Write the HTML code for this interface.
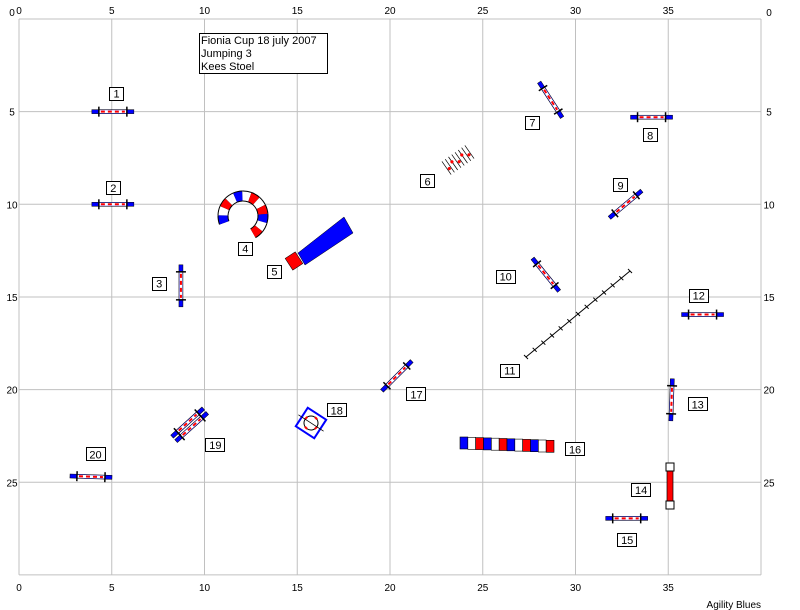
<!DOCTYPE html>
<html><head><meta charset="utf-8"><style>
body{margin:0;background:#fff;}
svg{display:block;font-family:"Liberation Sans",sans-serif;}
</style></head><body>
<svg id="c" width="800" height="610" xmlns="http://www.w3.org/2000/svg">
<g id="grid"></g>
<g id="obs"></g>
<g id="labs"></g>
<g>
<rect x="199.5" y="33.5" width="128" height="40" fill="#fff" stroke="#000"/>
<text x="201" y="44" font-size="11">Fionia Cup 18 july 2007</text>
<text x="201" y="57" font-size="11">Jumping 3</text>
<text x="201" y="70" font-size="11">Kees Stoel</text>
</g>
<text x="761" y="608" font-size="10" text-anchor="end">Agility Blues</text>
</svg>
<script>
const xTicks=[0,5,10,15,20,25,30,35];
const yTicks=[0,5,10,15,20,25];
const jumpIds=[1,2,3,7,8,9,10,12,13,15,17,20];
const jumpX=[5.06,5.06,8.73,28.66,34.1,32.7,28.4,36.85,35.18,32.76,20.37,3.88];
const jumpY=[5.0,10.0,14.4,4.36,5.3,10.0,13.8,15.95,20.55,26.95,19.26,24.7];
const jumpAngle=[0,0,90,57,0,-40,51,0,92,0,-45,2];
const labelText=["1","2","3","4","5","6","7","8","9","10","11","12","13","14","15","16","17","18","19","20"];
const labelX=[5.23,5.06,7.53,12.17,13.74,22.0,27.65,34.0,32.4,26.21,26.43,36.62,36.56,33.51,32.76,29.95,21.4,17.1,10.56,4.1];
const labelY=[4.0,9.1,14.25,12.36,13.6,8.74,5.56,6.26,8.95,13.87,18.95,14.9,20.77,25.4,28.1,23.2,20.23,21.1,22.95,23.47];
const tunnelColors=["#0000ff","#fff","#ff0000","#0000ff","#fff","#ff0000","#0000ff","#fff","#ff0000","#0000ff","#fff","#ff0000"];
const curveColors=["#0000ff","#fff","#ff0000","#fff","#0000ff","#fff","#ff0000","#fff","#ff0000","#0000ff","#fff","#ff0000"];

const NS="http://www.w3.org/2000/svg";
const X0=19,Y0=19,KX=18.55,KY=18.53;
function sx(u){return X0+u*KX;}
function sy(u){return Y0+u*KY;}
function mk(tag,attrs,parent){const e=document.createElementNS(NS,tag);for(const k in attrs)e.setAttribute(k,attrs[k]);parent.appendChild(e);return e;}

const grid=document.getElementById('grid');
const obs=document.getElementById('obs');
const labs=document.getElementById('labs');

for(let i=0;i<=40;i+=5){
  const l=mk('line',{x1:sx(i),x2:sx(i),y1:sy(0),y2:sy(30),stroke:'#c0c0c0','stroke-width':1},grid);
  
  
}
for(let j=0;j<=30;j+=5){
  const l=mk('line',{x1:sx(0),x2:sx(40),y1:sy(j),y2:sy(j),stroke:'#c0c0c0','stroke-width':1},grid);
  
  
}
xTicks.forEach(v=>{
  [10,587].forEach(yy=>{
    const t=mk('text',{x:sx(v),y:yy+4,'font-size':10,'text-anchor':'middle'},grid);
    t.textContent=v;
    
    
  });
});
yTicks.forEach(v=>{
  const t=mk('text',{x:12,y:sy(v)+(v===0?-3:4),'font-size':10,'text-anchor':'middle'},grid);
  t.textContent=v;
  
  
  const t2=mk('text',{x:769,y:sy(v)+(v===0?-3:4),'font-size':10,'text-anchor':'middle'},grid);
  t2.textContent=v;
  
  
});

function jump(g){
  mk('rect',{x:-21,y:-2,width:42,height:4,fill:'#0000ff',stroke:'#000','stroke-width':0.5},g);
  mk('rect',{x:-14,y:-1.5,width:28,height:3,fill:'#fff'},g);
  mk('line',{x1:-12,x2:12,y1:0,y2:0,stroke:'#ff0000','stroke-width':2,'stroke-dasharray':'4 3'},g);
  mk('line',{x1:-14,x2:-14,y1:-5,y2:5,stroke:'#000','stroke-width':1.5},g);
  mk('line',{x1:14,x2:14,y1:-5,y2:5,stroke:'#000','stroke-width':1.5},g);
}
jumpIds.forEach((id,i)=>{
  const g=mk('g',{transform:'translate('+sx(jumpX[i])+','+sy(jumpY[i])+') rotate('+jumpAngle[i]+')'},obs);
  
  
  jump(g);
});

{
  const g=mk('g',{transform:'translate('+sx(9.2)+','+sy(21.9)+') rotate(-42)'},obs);
  
  
  [-3,3].forEach(o=>{
    const gg=mk('g',{transform:'translate(0,'+o+')'},g);
    jump(gg);
  });
}

{
  const g=mk('g',{},obs);
  
  
  const cx=243,cy=216,r=20,n=curveColors.length;
  const a0=200,a1=-60;
  for(let i=0;i<n;i++){
    const s=(a0+(a1-a0)*i/n)*Math.PI/180,e=(a0+(a1-a0)*(i+1)/n)*Math.PI/180;
    const p1=[cx+r*Math.cos(s),cy-r*Math.sin(s)],p2=[cx+r*Math.cos(e),cy-r*Math.sin(e)];
    const d='M'+p1[0]+','+p1[1]+' A'+r+','+r+' 0 0 1 '+p2[0]+','+p2[1];
    mk('path',{d:d,stroke:'#000','stroke-width':11,fill:'none'},g);
    mk('path',{d:d,stroke:curveColors[i],'stroke-width':9,fill:'none'},g);
  }
}

{
  const g=mk('g',{},obs);
  
  
  mk('polygon',{points:'298,253 305,265 353,233 344,217',fill:'#0000ff',stroke:'#000','stroke-width':0.5},g);
  mk('rect',{x:-6,y:-7,width:12,height:14,fill:'#ff0000',stroke:'#000','stroke-width':0.5,transform:'translate(294,261) rotate(-33)'},g);
}

{
  const g=mk('g',{transform:'translate(458,160) rotate(-35)'},obs);
  
  
  for(let i=0;i<8;i++) mk('line',{x1:-14+i*4,x2:-14+i*4,y1:-8,y2:8,stroke:'#000','stroke-width':0.7},g);
  for(let i=0;i<5;i++) mk('circle',{cx:-12+i*6,cy:(i%2?-2:2),r:1.6,fill:'#ff0000'},g);
}

{
  const g=mk('g',{},obs);
  
  
  const x1=526,y1=357,x2=630,y2=271;
  mk('line',{x1:x1,y1:y1,x2:x2,y2:y2,stroke:'#000','stroke-width':1},g);
  for(let i=0;i<=12;i++){
    const x=x1+(x2-x1)*i/12,y=y1+(y2-y1)*i/12;
    mk('line',{x1:x-2,y1:y-2,x2:x+2,y2:y+2,stroke:'#000','stroke-width':1},g);
  }
}

{
  const g=mk('g',{},obs);
  
  
  mk('rect',{x:667,y:466,width:6,height:42,fill:'#ff0000',stroke:'#000','stroke-width':0.7},g);
  mk('rect',{x:666,y:463,width:8,height:8,fill:'#fff',stroke:'#000','stroke-width':1},g);
  mk('rect',{x:666,y:501,width:8,height:8,fill:'#fff',stroke:'#000','stroke-width':1},g);
}

{
  const g=mk('g',{},obs);
  
  
  const n=tunnelColors.length,w=(554-460)/n;
  tunnelColors.forEach((c,i)=>{
    mk('rect',{x:460+i*w,y:437+i*0.3,width:w,height:12,fill:c,stroke:'#000','stroke-width':0.6},g);
  });
}

{
  const g=mk('g',{transform:'translate(311,423) rotate(33)'},obs);
  
  
  mk('rect',{x:-11,y:-11,width:22,height:22,fill:'#fff',stroke:'#0000ff','stroke-width':2},g);
  mk('circle',{cx:0,cy:0,r:7,fill:'none',stroke:'#000','stroke-width':1},g);
  mk('circle',{cx:0,cy:0,r:7,fill:'none',stroke:'#ff0000','stroke-width':2,'stroke-dasharray':'3 8'},g);
  mk('line',{x1:-15,x2:15,y1:0,y2:0,stroke:'#000','stroke-width':0.8},g);
}

labelText.forEach((t,i)=>{
  const w=t.length>1?19:14;
  const cx=sx(labelX[i]),cy=sy(labelY[i]);
  const g=mk('g',{},labs);
  
  
  mk('rect',{x:Math.round(cx-w/2)+0.5,y:Math.round(cy-6.5)+0.5,width:w,height:13,fill:'#fff',stroke:'#000','stroke-width':1},g);
  const tx=mk('text',{x:cx+0.5,y:cy+4.5,'font-size':11,'text-anchor':'middle'},g);
  tx.textContent=t;
});
</script>
</body></html>
